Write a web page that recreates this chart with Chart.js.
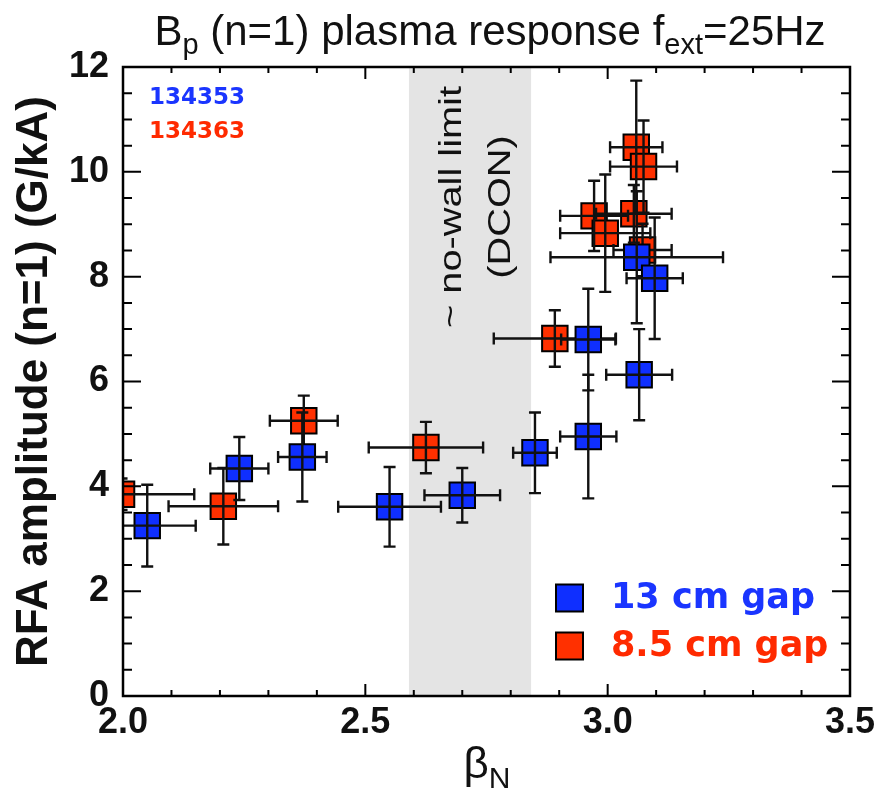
<!DOCTYPE html>
<html>
<head>
<meta charset="utf-8">
<title>Bp (n=1) plasma response</title>
<script src="https://cdn.jsdelivr.net/npm/chart.js@4.4.1/dist/chart.umd.min.js"></script>
<style>
  html, body { margin: 0; padding: 0; background: #fff; }
  #wrap { width: 895px; height: 791px; }
</style>
</head>
<body>
<div id="wrap"><canvas id="chart" width="895" height="791"></canvas></div>
<script>
// 13 cm gap (shot 134353)
const gap13X    = [2.05, 2.24, 2.37, 2.55, 2.70, 2.85, 2.96, 3.065, 2.96, 3.06, 3.097];
const gap13Y    = [3.25, 4.34, 4.56, 3.61, 3.83, 4.64, 4.95, 6.13, 6.80, 8.37, 7.97];
const gap13XErr = [0.10, 0.06, 0.05, 0.106, 0.078, 0.045, 0.058, 0.068, 0.056, 0.178, 0.058];
const gap13YErr = [0.78, 0.60, 0.85, 0.76, 0.52, 0.77, 1.18, 0.87, 0.97, 1.26, 1.16];

// 8.5 cm gap (shot 134363)
const gap85X    = [1.997, 2.207, 2.373, 2.625, 2.891, 2.972, 2.995, 3.054, 3.059, 3.074, 3.072];
const gap85Y    = [3.85, 3.62, 5.25, 4.74, 6.82, 9.16, 8.83, 9.20, 10.47, 10.10, 8.51];
const gap85XErr = [0.15, 0.113, 0.07, 0.118, 0.126, 0.07, 0.093, 0.078, 0.054, 0.069, 0.06];
const gap85YErr = [0.30, 0.73, 0.48, 0.49, 0.54, 0.67, 1.12, 0.55, 1.27, 0.88, 0.50];

const xTickValues = [2.0, 2.5, 3.0, 3.5];
const yTickValues = [0, 2, 4, 6, 8, 10, 12];
const noWallBand = [2.59, 2.842];

const BLUE = "#0f2fff";
const RED = "#ff3000";
const SANS = '"Liberation Sans", Arial, Helvetica, sans-serif';
const ROUND = '"DejaVu Sans", Verdana, sans-serif';

function toPoints(xs, ys, xe, ye) {
  return xs.map((x, i) => ({ x: x, y: ys[i], xe: xe[i], ye: ye[i] }));
}

// text with subscripts, parts = [[text, isSub], ...]
function drawRich(ctx, parts, cx, baseline, size, subSize, subDrop) {
  let total = 0;
  parts.forEach(p => {
    ctx.font = (p[1] ? subSize : size) + "px " + SANS;
    total += ctx.measureText(p[0]).width;
  });
  let x = cx - total / 2;
  ctx.textAlign = "left";
  ctx.textBaseline = "alphabetic";
  parts.forEach(p => {
    ctx.font = (p[1] ? subSize : size) + "px " + SANS;
    ctx.fillText(p[0], x, baseline + (p[1] ? subDrop : 0));
    x += ctx.measureText(p[0]).width;
  });
}

const backdrop = {
  id: "backdrop",
  beforeDatasetsDraw(chart) {
    const { ctx, chartArea: a, scales: { x } } = chart;
    const x0 = x.getPixelForValue(noWallBand[0]);
    const x1 = x.getPixelForValue(noWallBand[1]);
    ctx.save();
    ctx.fillStyle = "#e4e4e4";
    ctx.fillRect(x0, a.top, x1 - x0, a.height);

    ctx.fillStyle = "#111";
    ctx.textAlign = "center";
    ctx.textBaseline = "alphabetic";
    ctx.font = "31px " + SANS;
    const lines = [["~ no-wall limit", 461], ["(DCON)", 510]];
    const stretch = 242 / ctx.measureText(lines[0][0]).width;
    lines.forEach(l => {
      ctx.save();
      ctx.translate(l[1], 207);
      ctx.rotate(-Math.PI / 2);
      ctx.scale(stretch, 1);
      ctx.fillText(l[0], 0, 0);
      ctx.restore();
    });
    ctx.restore();
  }
};

const errorBars = {
  id: "errorBars",
  afterDatasetDraw(chart, args) {
    const { ctx, chartArea: a, scales: { x, y } } = chart;
    const pts = chart.data.datasets[args.index].data;
    const cap = 6;
    ctx.save();
    ctx.beginPath();
    ctx.rect(a.left, a.top, a.width, a.height);
    ctx.clip();
    ctx.strokeStyle = "#111";
    ctx.lineWidth = 2.4;
    pts.forEach(p => {
      const px = x.getPixelForValue(p.x), py = y.getPixelForValue(p.y);
      const xl = x.getPixelForValue(p.x - p.xe), xr = x.getPixelForValue(p.x + p.xe);
      const yb = y.getPixelForValue(p.y - p.ye), yt = y.getPixelForValue(p.y + p.ye);
      ctx.beginPath();
      ctx.moveTo(xl, py); ctx.lineTo(xr, py);
      ctx.moveTo(xl, py - cap); ctx.lineTo(xl, py + cap);
      ctx.moveTo(xr, py - cap); ctx.lineTo(xr, py + cap);
      ctx.moveTo(px, yb); ctx.lineTo(px, yt);
      ctx.moveTo(px - cap, yb); ctx.lineTo(px + cap, yb);
      ctx.moveTo(px - cap, yt); ctx.lineTo(px + cap, yt);
      ctx.stroke();
    });
    ctx.restore();
  }
};

const frame = {
  id: "frame",
  afterDatasetsDraw(chart) {
    const { ctx, chartArea: a, scales: { x, y } } = chart;
    ctx.save();
    ctx.strokeStyle = "#000";
    ctx.lineWidth = 2;
    ctx.beginPath();
    // x ticks, minor every 0.1, major every 0.5 (bottom and top)
    for (let i = 0; i <= 15; i++) {
      const px = x.getPixelForValue(2 + i * 0.1);
      const len = i % 5 === 0 ? 12 : 6;
      ctx.moveTo(px, a.bottom); ctx.lineTo(px, a.bottom - len);
      ctx.moveTo(px, a.top); ctx.lineTo(px, a.top + len);
    }
    // y ticks, minor every 0.5, major every 2 (left and right)
    for (let i = 0; i <= 24; i++) {
      const py = y.getPixelForValue(i * 0.5);
      const len = i % 4 === 0 ? 18 : 9;
      ctx.moveTo(a.left, py); ctx.lineTo(a.left + len, py);
      ctx.moveTo(a.right, py); ctx.lineTo(a.right - len, py);
    }
    ctx.stroke();
    ctx.lineWidth = 2.5;
    ctx.strokeRect(a.left, a.top, a.width, a.height);
    ctx.restore();
  },
  afterDraw(chart) {
    const ctx = chart.ctx;
    ctx.save();
    ctx.fillStyle = "#111";
    drawRich(ctx, [["B", 0], ["p", 1], [" (n=1) plasma response f", 0], ["ext", 1], ["=25Hz", 0]],
      490, 45, 42, 29, 9);
    drawRich(ctx, [["\u03b2", 0], ["N", 1]], 487, 778, 44, 30, 10);

    // shot numbers
    ctx.textAlign = "left";
    ctx.textBaseline = "middle";
    ctx.font = "bold 23px " + ROUND;
    ctx.fillStyle = "#1a35ff";
    ctx.fillText("134353", 149, 98);
    ctx.fillStyle = "#ff2a00";
    ctx.fillText("134363", 149, 132);

    // legend
    const rows = [[BLUE, "#1a35ff", "13 cm gap", 598], [RED, "#ff2a00", "8.5 cm gap", 646]];
    ctx.font = "bold 35px " + ROUND;
    rows.forEach(r => {
      ctx.fillStyle = r[0];
      ctx.fillRect(556, r[3] - 13.5, 27, 27);
      ctx.strokeStyle = "#000";
      ctx.lineWidth = 2;
      ctx.strokeRect(556, r[3] - 13.5, 27, 27);
      ctx.fillStyle = r[1];
      ctx.fillText(r[2], 611, r[3] + 1);
    });
    ctx.restore();
  }
};

const tickFont = { family: SANS, size: 36, weight: "bold" };

new Chart(document.getElementById("chart").getContext("2d"), {
  type: "scatter",
  data: {
    datasets: [
      {
        label: "13 cm gap",
        data: toPoints(gap13X, gap13Y, gap13XErr, gap13YErr),
        backgroundColor: BLUE,
        borderColor: "#000",
        borderWidth: 2,
        pointStyle: "rect",
        pointRadius: 18,
        pointHoverRadius: 18,
        clip: 0
      },
      {
        label: "8.5 cm gap",
        data: toPoints(gap85X, gap85Y, gap85XErr, gap85YErr),
        backgroundColor: RED,
        borderColor: "#000",
        borderWidth: 2,
        pointStyle: "rect",
        pointRadius: 18,
        pointHoverRadius: 18,
        clip: 0
      }
    ]
  },
  options: {
    responsive: false,
    animation: false,
    events: [],
    layout: { padding: { left: 0, right: 45, top: 67, bottom: 0 } },
    plugins: { legend: { display: false }, tooltip: { enabled: false } },
    scales: {
      x: {
        type: "linear",
        min: 2.0,
        max: 3.5,
        afterFit: s => { s.height = 95; },
        afterBuildTicks: s => { s.ticks = xTickValues.map(v => ({ value: v })); },
        ticks: { font: tickFont, color: "#111", padding: 5, maxRotation: 0, autoSkip: false,
                 callback: v => v.toFixed(1) },
        grid: { display: false, drawTicks: false },
        border: { display: false }
      },
      y: {
        type: "linear",
        min: 0,
        max: 12,
        afterFit: s => { s.width = 123; },
        afterBuildTicks: s => { s.ticks = yTickValues.map(v => ({ value: v })); },
        ticks: { font: tickFont, color: "#111", padding: 14, autoSkip: false },
        grid: { display: false, drawTicks: false },
        border: { display: false },
        title: {
          display: true,
          text: "RFA amplitude (n=1) (G/kA)",
          color: "#111",
          font: { family: SANS, size: 44, weight: "bold" },
          padding: { top: 8, bottom: 0 }
        }
      }
    }
  },
  plugins: [backdrop, errorBars, frame]
});
</script>
</body>
</html>
